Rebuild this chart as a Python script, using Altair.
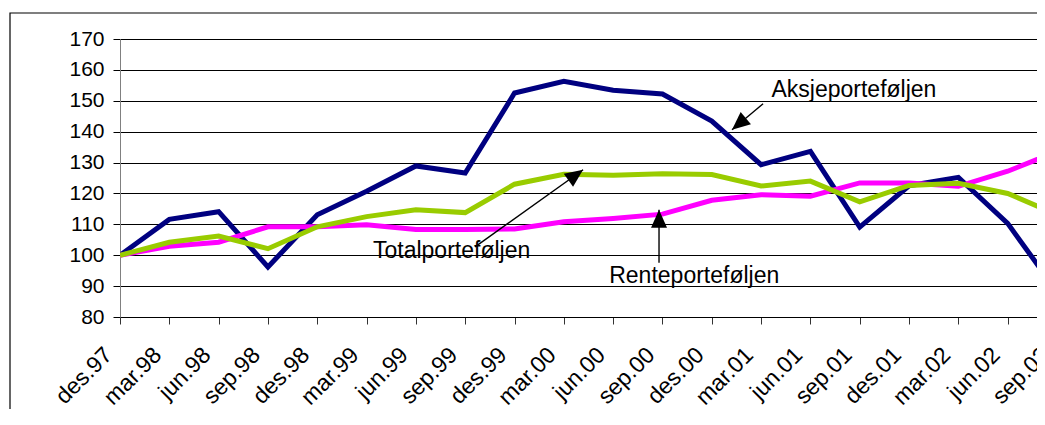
import altair as alt
import pandas as pd

# ---------------- data ----------------
periods = ["des.97", "mar.98", "jun.98", "sep.98", "des.98", "mar.99", "jun.99",
           "sep.99", "des.99", "mar.00", "jun.00", "sep.00", "des.00", "mar.01",
           "jun.01", "sep.01", "des.01", "mar.02", "jun.02", "sep.02"]

aksje = [100, 111.6, 114.1, 96.2, 113.1, 120.7, 128.9, 126.6, 152.5, 156.3,
         153.4, 152.2, 143.4, 129.3, 133.6, 109.1, 122.5, 125.2, 110.3, 88.2]
rente = [100, 102.9, 104.2, 109.2, 109.2, 109.9, 108.3, 108.3, 108.5, 110.8,
         111.9, 113.3, 117.8, 119.6, 119.1, 123.4, 123.4, 122.3, 127.2, 133.6]
total = [100, 104.2, 106.2, 102.1, 109.2, 112.5, 114.7, 113.8, 123.0, 126.2,
         125.9, 126.4, 126.1, 122.4, 124.0, 117.3, 122.6, 123.3, 120.0, 113.2]

series_names = ["Aksjeporteføljen", "Renteporteføljen", "Totalporteføljen"]
series_colors = ["#000080", "#FF00FF", "#99CC00"]
y_ticks = list(range(80, 171, 10))

# annotations (text positions and arrows in data units)
ann_label = ["Aksjeporteføljen", "Totalporteføljen", "Renteporteføljen"]
ann_tx = [13.21, 5.13, 9.92]
ann_ty = [151.2, 99.06, 90.96]
arrow_x0 = [13.04, 7.20, 10.93]
arrow_y0 = [149.04, 102.72, 97.54]
arrow_x1 = [12.41, 9.39, 10.93]
arrow_y1 = [140.62, 127.66, 114.70]
arrow_angle = [230, 54.5, 0]

FONT = "Liberation Sans, Arial, sans-serif"

# ---------------- tables ----------------
rows = []
for name, vals in zip(series_names, [aksje, rente, total]):
    for i, v in enumerate(vals):
        rows.append({"i": i, "period": periods[i], "value": v, "series": name})
df = pd.DataFrame(rows)

ann = pd.DataFrame({"label": ann_label, "tx": ann_tx, "ty": ann_ty,
                    "x0": arrow_x0, "y0": arrow_y0, "x1": arrow_x1,
                    "y1": arrow_y1, "ang": arrow_angle})

label_expr = "[" + ",".join("'%s'" % p for p in periods) + "][datum.value]"

x_scale = alt.Scale(domain=[0, len(periods) - 1], range=[0, 937], nice=False, zero=False)
y_scale = alt.Scale(domain=[80, 170], nice=False, zero=False)

x_axis = alt.Axis(values=list(range(len(periods))), labelExpr=label_expr, title=None,
                  grid=False, domainColor="black", domainWidth=1, tickColor="#333333",
                  tickSize=7, labelAngle=-45, labelAlign="right",
                  labelBaseline="alphabetic", labelPadding=32, labelOffset=-7,
                  labelFontSize=23, labelFont=FONT, labelColor="black",
                  labelOverlap=False, labelFlush=False)
y_axis = alt.Axis(values=y_ticks, title=None, grid=True, gridColor="black",
                  gridWidth=1, domainColor="#808080", tickColor="black", tickSize=7,
                  labelPadding=9, labelFontSize=21, labelFont=FONT,
                  labelColor="black", labelOverlap=False)

frame = alt.Chart(pd.DataFrame({"a": [0]})).mark_rect(
    fillOpacity=0, stroke="black", strokeWidth=1.2
).encode(x=alt.value(-110), x2=alt.value(1300), y=alt.value(-26), y2=alt.value(700))

layers = [frame]
for name, color in zip(series_names, series_colors):
    layers.append(
        alt.Chart(df).transform_filter(alt.datum.series == name)
        .mark_line(color=color, strokeWidth=5, clip=True)
        .encode(x=alt.X("i:Q", scale=x_scale, axis=x_axis),
                y=alt.Y("value:Q", scale=y_scale, axis=y_axis))
    )

texts = alt.Chart(ann).mark_text(
    align="left", baseline="alphabetic", font=FONT, fontSize=23, color="black"
).encode(x=alt.X("tx:Q", scale=x_scale, axis=x_axis),
         y=alt.Y("ty:Q", scale=y_scale, axis=y_axis), text="label:N")

rules = alt.Chart(ann).mark_rule(color="black", strokeWidth=1.4).encode(
    x=alt.X("x0:Q", scale=x_scale, axis=x_axis),
    y=alt.Y("y0:Q", scale=y_scale, axis=y_axis), x2="x1:Q", y2="y1:Q")

heads = alt.Chart(ann).mark_point(
    shape="M0,0L0.8,1.8L-0.8,1.8Z", filled=True, size=400, color="black",
    opacity=1, strokeWidth=0
).encode(x=alt.X("x1:Q", scale=x_scale, axis=x_axis),
         y=alt.Y("y1:Q", scale=y_scale, axis=y_axis),
         angle=alt.Angle("ang:Q", scale=None))

layers += [rules, heads, texts]

chart = alt.layer(*layers).properties(
    width=917, height=278,
    autosize=alt.AutoSizeParams(type="none"),
    padding={"left": 112, "top": 31, "right": 0, "bottom": 92},
    background="white",
).configure_view(strokeWidth=0)

chart.save("out.html", embed_options={"renderer": "svg", "actions": False})
